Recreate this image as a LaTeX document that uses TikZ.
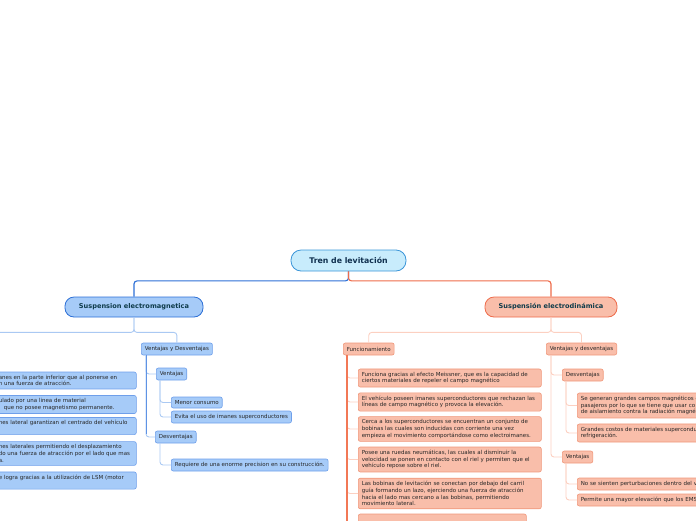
\documentclass[tikz,border=0pt]{standalone}
\usepackage{fontspec}
\setmainfont{DejaVu Sans}
\usepackage{tikz}

\definecolor{rootfill}{HTML}{C8ECFC}
\definecolor{rootedge}{HTML}{3A95D8}
\definecolor{roottext}{HTML}{10304F}
\definecolor{titletext}{HTML}{0E3B4A}
\definecolor{leaftext}{HTML}{262626}
\definecolor{bluefill}{HTML}{A6CBF8}
\definecolor{blueedge}{HTML}{6E9FEA}
\definecolor{blueline}{HTML}{2C6FD6}
\definecolor{bluemid}{HTML}{5F93E4}
\definecolor{bluelight}{HTML}{AAC9F3}
\definecolor{redfill}{HTML}{F9BEAA}
\definecolor{rededge}{HTML}{F0977A}
\definecolor{redline}{HTML}{EE6B4A}
\definecolor{redmid}{HTML}{F27856}
\definecolor{redlight}{HTML}{FCD0C1}

\begin{document}
\begin{tikzpicture}[x=1pt,y=-1pt,
  rootbox/.style={rectangle,rounded corners=10pt,fill=rootfill,draw=rootedge,line width=0.8pt,
    font=\bfseries\fontsize{7.8}{9}\selectfont,text=roottext,minimum width=115pt,minimum height=21pt},
  mainL/.style={rectangle,rounded corners=9pt,fill=bluefill,draw=blueline,line width=0.8pt,
    font=\bfseries\fontsize{6.6}{8}\selectfont,text=titletext,minimum height=20pt},
  mainR/.style={mainL,fill=redfill,draw=redline},
  basebox/.style={rectangle,rounded corners=2pt,line width=0.6pt,inner xsep=3.5pt,inner ysep=3pt,
    text=leaftext,font=\fontsize{5.5}{6.7}\selectfont,minimum height=12pt,anchor=west,align=left},
  tagL/.style={basebox,fill=bluefill,draw=blueedge},
  tagR/.style={basebox,fill=redfill,draw=rededge},
  linkB/.style={draw=blueline,line width=1.1pt,rounded corners=3pt},
  linkBm/.style={draw=bluemid,line width=0.9pt},
  linkBl/.style={draw=bluelight,line width=0.9pt,rounded corners=3pt},
  linkR/.style={draw=redline,line width=1.1pt,rounded corners=3pt},
  linkRm/.style={draw=redmid,line width=1.1pt},
  linkRl/.style={draw=redlight,line width=0.9pt,rounded corners=3pt}]
\useasboundingbox (0,0) rectangle (696,520);
\clip (0,0) rectangle (696,520);

% root and main branches
\node[rootbox] (tren) at (348.5,260.5) {Tren de levitación};
\node[mainL,minimum width=138pt] (sem) at (134,307) {Suspension electromagnetica};
\node[mainR,minimum width=132pt] (sed) at (551,307) {Suspensión electrodinámica};

% electromagnetica
\node[tagL] (semvd) at (141,349) {Ventajas y Desventajas};
\node[tagL] (semv) at (156,374) {Ventajas};
\node[tagL,minimum height=11pt] (semv1) at (171,402.5) {Menor consumo};
\node[tagL] (semv2) at (171,417) {Evita el uso de imanes superconductores};
\node[tagL] (semd) at (155,437) {Desventajas};
\node[tagL] (semd1) at (171,465) {Requiere de una enorme precision en su construcción.};

\node[tagL,text width=134pt] (seml1) at (-5,380.5) {anes en la parte inferior que al ponerse en\\n una fuerza de atracción.};
\node[tagL,text width=134pt] (seml2) at (-5,404.5) {ulado por una linea de material\\\hspace*{5pt}que no posee magnetismo permanente.};
\node[tagL,text width=134pt] (seml3) at (-5,426) {nes lateral garantizan el centrado del vehículo\\\mbox{}};
\node[tagL,text width=134pt] (seml4) at (-5,453.5) {nes laterales permitiendo el desplazamiento\\do una fuerza de atracción por el lado que mas\\a.};
\node[tagL,text width=134pt] (seml5) at (-5,480.5) {e logra gracias a la utilización de LSM (motor\\\mbox{}};
\coordinate (semfun) at (-40,343);

% electrodinamica
\node[tagR] (sedf) at (343,349) {Funcionamiento};
\node[tagR,text width=176pt] (f1) at (358,378) {Funciona gracias al efecto Meissner, que es la capacidad de\\ciertos materiales de repeler el campo magnético};
\node[tagR,text width=176pt] (f2) at (358,402) {El vehículo poseen imanes superconductores que rechazan las\\líneas de campo magnético y provoca la elevación.};
\node[tagR,text width=176pt] (f3) at (358,429) {Cerca a los superconductores se encuentran un conjunto de\\bobinas las cuales son inducidas con corriente una vez\\empieza el movimiento comportándose como electroimanes.};
\node[tagR,text width=176pt] (f4) at (358,459.5) {Posee una ruedas neumáticas, las cuales al disminuir la\\velocidad se ponen en contacto con el riel y permiten que el\\vehículo repose sobre el riel.};
\node[tagR,text width=176pt] (f5) at (358,493.5) {Las bobinas de levitación se conectan por debajo del carril\\guía formando un lazo, ejerciendo una fuerza de atracción\\hacia el lado mas cercano a las bobinas, permitiendo\\movimiento lateral.};
\node[tagR,text width=161pt,minimum height=20pt] (f6) at (358,524) {};

\node[tagR] (sedvd) at (546,349) {Ventajas y desventajas};
\node[tagR] (sedd) at (562,375) {Desventajas};
\node[tagR,text width=150pt] (sedd1) at (577,405.5) {Se generan grandes campos magnéticos d\\pasajeros por lo que se tiene que usar co\\de aislamiento contra la radiación magnét};
\node[tagR,text width=150pt] (sedd2) at (577,433) {Grandes costos de materiales supercondu\\refrigeración.};
\node[tagR] (sedv) at (562,457) {Ventajas};
\node[tagR,text width=150pt] (sedv1) at (577,484) {No se sienten perturbaciones dentro del v};
\node[tagR,text width=150pt] (sedv2) at (577,500) {Permite una mayor elevación que los EMS};

% connectors
\draw[linkB] (tren.south) -- ++(0,9.5) -| (sem.north);
\draw[linkR] (tren.south) -- ++(0,9.5) -| (sed.north);

\draw[linkBl] (sem.south) -- ++(0,15) -| (semvd.north);
\draw[linkBl] (sem.south) -- ++(0,15) -| (semfun);
\coordinate (semvdx) at ([xshift=5pt]semvd.south west);
\coordinate (semvde) at (semvdx |- semd.west);
\draw[linkBl] (semvdx) |- (semv.west);
\draw[linkBl] (semvdx) |- (semd.west);
\draw[linkBm] (semvdx) -- ([yshift=3pt]semvde);
\draw[linkBl] ([xshift=4pt]semv.south west) |- (semv1.west);
\draw[linkBl] ([xshift=4pt]semv.south west) |- (semv2.west);
\draw[linkBl] ([xshift=5pt]semd.south west) |- (semd1.west);

\draw[linkRl] (sed.south) -- ++(0,15) -| (sedf.north);
\draw[linkRl] (sed.south) -- ++(0,15) -| (sedvd.north);
\foreach \f in {f1,f2,f3,f4,f5,f6}
  \draw[linkRl] ([xshift=4pt]sedf.south west) |- (\f.west);
\draw[linkRm] ([xshift=4pt]sedf.south west) -- ++(0,200);
\draw[linkRl] ([xshift=5pt]sedvd.south west) |- (sedd.west);
\draw[linkRl] ([xshift=5pt]sedvd.south west) |- (sedv.west);
\draw[linkRl] ([xshift=4pt]sedd.south west) |- (sedd1.west);
\draw[linkRl] ([xshift=4pt]sedd.south west) |- (sedd2.west);
\draw[linkRl] ([xshift=4pt]sedv.south west) |- (sedv1.west);
\draw[linkRl] ([xshift=4pt]sedv.south west) |- (sedv2.west);
\end{tikzpicture}
\end{document}
